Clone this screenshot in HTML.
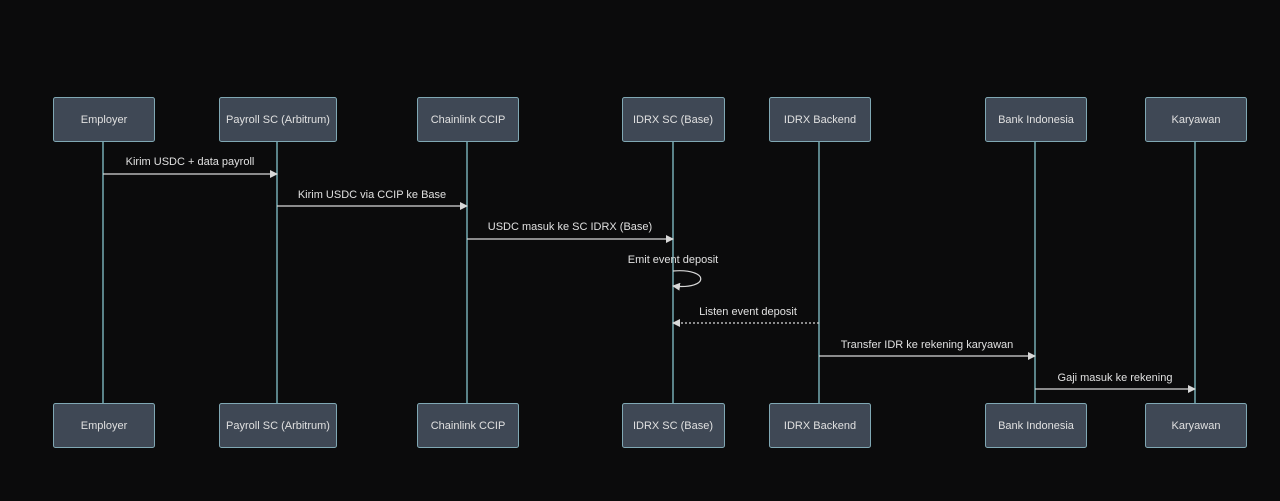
<!DOCTYPE html>
<html><head><meta charset="utf-8"><style>
html,body{margin:0;padding:0;background:#0b0b0c;}
svg{display:block;}
text{font-family:"Liberation Sans","DejaVu Sans",sans-serif;font-size:11px;fill:#e0e0e0;}
</style></head><body>
<svg width="1280" height="501" xmlns="http://www.w3.org/2000/svg">
<defs>
<marker id="a" markerWidth="8" markerHeight="8" refX="7" refY="4" orient="auto" markerUnits="userSpaceOnUse">
<path d="M0,0 L8,4 L0,8 z" fill="#d8d8d8"/></marker>
</defs>
<rect width="1280" height="501" fill="#0b0b0c"/>
<g stroke="#86c4cc" stroke-width="1.3">
<line x1="103" y1="141" x2="103" y2="403"/>
<line x1="277" y1="141" x2="277" y2="403"/>
<line x1="467" y1="141" x2="467" y2="403"/>
<line x1="673" y1="141" x2="673" y2="403"/>
<line x1="819" y1="141" x2="819" y2="403"/>
<line x1="1035" y1="141" x2="1035" y2="403"/>
<line x1="1195" y1="141" x2="1195" y2="403"/>
</g>
<g fill="#3f4855" stroke="#80a8b4" stroke-width="1">
<rect x="53.5" y="97.5" width="101" height="44" rx="2"/>
<rect x="219.5" y="97.5" width="117" height="44" rx="2"/>
<rect x="417.5" y="97.5" width="101" height="44" rx="2"/>
<rect x="622.5" y="97.5" width="102" height="44" rx="2"/>
<rect x="769.5" y="97.5" width="101" height="44" rx="2"/>
<rect x="985.5" y="97.5" width="101" height="44" rx="2"/>
<rect x="1145.5" y="97.5" width="101" height="44" rx="2"/>
<rect x="53.5" y="403.5" width="101" height="44" rx="2"/>
<rect x="219.5" y="403.5" width="117" height="44" rx="2"/>
<rect x="417.5" y="403.5" width="101" height="44" rx="2"/>
<rect x="622.5" y="403.5" width="102" height="44" rx="2"/>
<rect x="769.5" y="403.5" width="101" height="44" rx="2"/>
<rect x="985.5" y="403.5" width="101" height="44" rx="2"/>
<rect x="1145.5" y="403.5" width="101" height="44" rx="2"/>
</g>
<g text-anchor="middle">
<text x="104" y="123">Employer</text>
<text x="278" y="123">Payroll SC (Arbitrum)</text>
<text x="468" y="123">Chainlink CCIP</text>
<text x="673" y="123">IDRX SC (Base)</text>
<text x="820" y="123">IDRX Backend</text>
<text x="1036" y="123">Bank Indonesia</text>
<text x="1196" y="123">Karyawan</text>
<text x="104" y="429">Employer</text>
<text x="278" y="429">Payroll SC (Arbitrum)</text>
<text x="468" y="429">Chainlink CCIP</text>
<text x="673" y="429">IDRX SC (Base)</text>
<text x="820" y="429">IDRX Backend</text>
<text x="1036" y="429">Bank Indonesia</text>
<text x="1196" y="429">Karyawan</text>
<text x="190" y="165">Kirim USDC + data payroll</text>
<text x="372" y="198">Kirim USDC via CCIP ke Base</text>
<text x="570" y="230">USDC masuk ke SC IDRX (Base)</text>
<text x="673" y="263">Emit event deposit</text>
<text x="748" y="315">Listen event deposit</text>
<text x="927" y="348">Transfer IDR ke rekening karyawan</text>
<text x="1115" y="381">Gaji masuk ke rekening</text>
</g>
<g stroke="#d8d8d8" stroke-width="1.2" fill="none">
<line x1="103" y1="174" x2="277" y2="174" marker-end="url(#a)"/>
<line x1="277" y1="206" x2="467" y2="206" marker-end="url(#a)"/>
<line x1="467" y1="239" x2="673" y2="239" marker-end="url(#a)"/>
<path d="M673,271 C710,268 710,290 673,286" marker-end="url(#a)"/>
<line x1="819" y1="323" x2="673" y2="323" stroke-dasharray="2,2" marker-end="url(#a)"/>
<line x1="819" y1="356" x2="1035" y2="356" marker-end="url(#a)"/>
<line x1="1035" y1="389" x2="1195" y2="389" marker-end="url(#a)"/>
</g>
</svg>
</body></html>
